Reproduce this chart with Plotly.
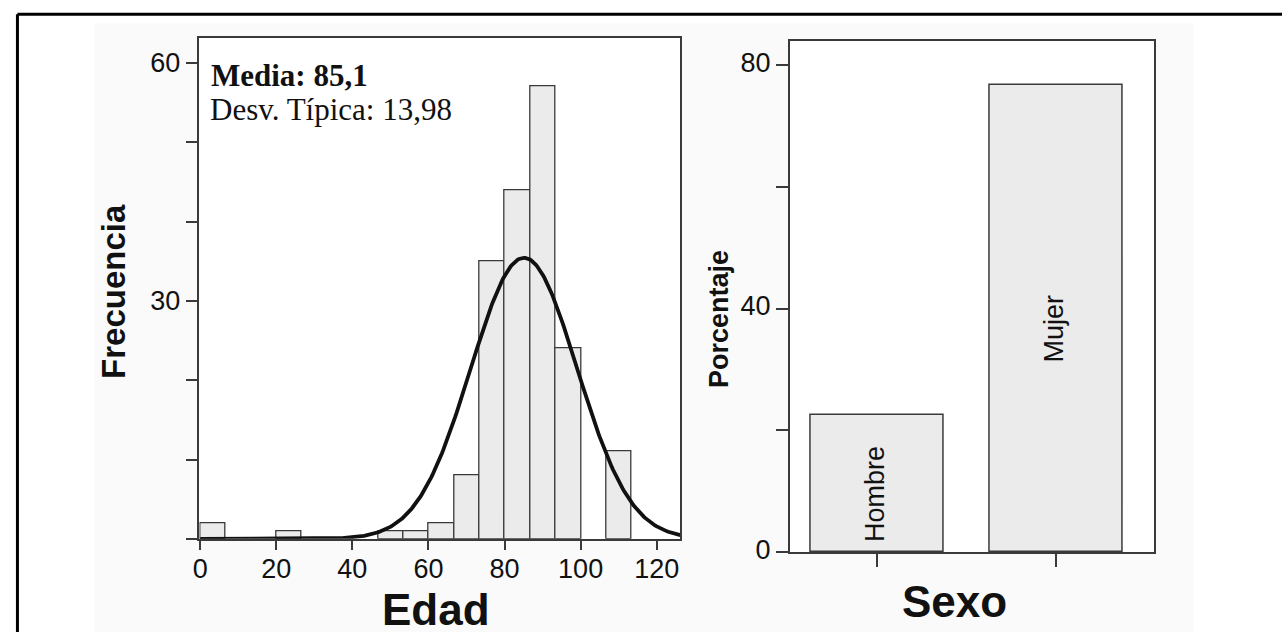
import numpy as np
import plotly.graph_objects as go

# ---------------- data ----------------
edad_bin_inicio = 0.0
edad_bin_ancho = 6.675
edad_frecuencias = [2, 0, 0, 1, 0, 0, 0, 1, 1, 2, 8, 35, 44, 57, 24, 0, 11]
edad_media = 85.1
edad_desv = 13.98
edad_xticks = [0, 20, 40, 60, 80, 100, 120]
frec_yticks = [0, 10, 20, 30, 40, 50, 60]
frec_yticklabels = ["", "", "", "30", "", "", "60"]

sexo_categorias = ["Hombre", "Mujer"]
sexo_porcentajes = [22.5, 76.7]
porc_yticks = [0, 20, 40, 60, 80]
porc_yticklabels = ["0", "", "40", "", "80"]

# ---------------- layout helpers ----------------
W, H = 1282, 644
def px(x):
    return x / W
def py(y):
    return 1 - y / H

FONT = "Liberation Sans, Arial, sans-serif"
SERIF = "Liberation Serif, Times New Roman, serif"
LINE = "#3a3a3a"
FILL = "#ebebeb"

# histogram bars
centers, heights = [], []
for i, f in enumerate(edad_frecuencias):
    if f > 0:
        centers.append(edad_bin_inicio + edad_bin_ancho * (i + 0.5))
        heights.append(f)

n_total = sum(edad_frecuencias)
xc = np.linspace(0, 126.2, 400)
yc = n_total * edad_bin_ancho * np.exp(-0.5 * ((xc - edad_media) / edad_desv) ** 2) / (edad_desv * np.sqrt(2 * np.pi))

fig = go.Figure()
fig.add_trace(go.Bar(x=centers, y=heights, width=edad_bin_ancho,
                     marker=dict(color=FILL, line=dict(color=LINE, width=1.3)),
                     xaxis="x", yaxis="y", showlegend=False, hoverinfo="skip"))
fig.add_trace(go.Scatter(x=xc, y=yc, mode="lines", line=dict(color="#111111", width=3.8),
                         xaxis="x", yaxis="y", showlegend=False, hoverinfo="skip"))
fig.add_trace(go.Bar(x=sexo_categorias, y=sexo_porcentajes, width=0.745,
                     marker=dict(color=FILL, line=dict(color=LINE, width=1.5)),
                     xaxis="x2", yaxis="y2", showlegend=False, hoverinfo="skip"))

axis_common = dict(showline=True, linecolor=LINE, linewidth=1.5, mirror=True,
                   showgrid=False, zeroline=False, ticks="outside", tickcolor=LINE,
                   tickwidth=1.5, tickfont=dict(family=FONT, size=27, color="#111111"))

L_DOM_X = [193.5, 677]
L_DOM_Y = [549.1, 39]
R_DOM_X = [787, 1153.3]
R_DOM_Y = [562.7, 41.7]

fig.update_layout(
    width=W, height=H,
    margin=dict(l=0, r=0, t=0, b=0),
    paper_bgcolor="white", plot_bgcolor="white",
    bargap=0,
    xaxis=dict(domain=[px(L_DOM_X[0]), px(L_DOM_X[1])], range=[-0.2, 126.2], tickvals=edad_xticks,
               ticklen=9, ticklabelstandoff=-4, anchor="y", **axis_common),
    yaxis=dict(domain=[py(L_DOM_Y[0]), py(L_DOM_Y[1])], range=[0, 63.1], tickvals=frec_yticks,
               ticktext=frec_yticklabels, ticklen=12, anchor="x", **axis_common),
    xaxis2=dict(domain=[px(R_DOM_X[0]), px(R_DOM_X[1])], range=[-0.49, 1.55], type="category",
                showticklabels=False, ticklen=13, anchor="y2", **axis_common),
    yaxis2=dict(domain=[py(R_DOM_Y[0]), py(R_DOM_Y[1])], range=[0, 84.0], tickvals=porc_yticks,
                ticktext=porc_yticklabels, ticklen=12, ticklabelshift=-3, anchor="x2", **axis_common),
)

ann = []
# axis titles
ann.append(dict(text="<b>Edad</b>", x=px(431), y=py(621), xref="paper", yref="paper",
                xanchor="center", yanchor="middle", showarrow=False,
                font=dict(family=FONT, size=44, color="#111111")))
ann.append(dict(text="<b>Sexo</b>", x=px(953), y=py(613), xref="paper", yref="paper",
                xanchor="center", yanchor="middle", showarrow=False,
                font=dict(family=FONT, size=44, color="#111111")))
ann.append(dict(text="<b>Frecuencia</b>", x=px(107), y=py(297), xref="paper", yref="paper",
                xanchor="center", yanchor="middle", showarrow=False, textangle=-90,
                font=dict(family=FONT, size=33, color="#111111")))
ann.append(dict(text="<b>Porcentaje</b>", x=px(716), y=py(325), xref="paper", yref="paper",
                xanchor="center", yanchor="middle", showarrow=False, textangle=-90,
                font=dict(family=FONT, size=27, color="#111111")))
# statistics text
ann.append(dict(text="<b>Media: 85,1</b>", x=px(203), y=py(77), xref="paper", yref="paper",
                xanchor="left", yanchor="middle", showarrow=False,
                font=dict(family=SERIF, size=31, color="#111111")))
ann.append(dict(text="Desv. Típica: 13,98", x=px(202), y=py(112), xref="paper", yref="paper",
                xanchor="left", yanchor="middle", showarrow=False,
                font=dict(family=SERIF, size=31, color="#111111")))
# bar labels
for cat, val in zip(sexo_categorias, sexo_porcentajes):
    ann.append(dict(text=cat, x=cat, y=val / 2, xref="x2", yref="y2",
                    xanchor="center", yanchor="middle", showarrow=False, textangle=-90,
                    yshift=-10, xshift=-2,
                    font=dict(family=FONT, size=27, color="#111111")))
fig.update_layout(annotations=ann)

# faint panel behind charts, white plot areas, outer frame (kept inside the page)
fig.add_shape(type="rect", xref="paper", yref="paper", x0=px(88), x1=px(1193), y0=0, y1=py(24),
              fillcolor="#fafafa", line=dict(width=0), layer="below")
for dx, dy in ((L_DOM_X, L_DOM_Y), (R_DOM_X, R_DOM_Y)):
    fig.add_shape(type="rect", xref="paper", yref="paper", x0=px(dx[0]), x1=px(dx[1]),
                  y0=py(dy[0]), y1=py(dy[1]), fillcolor="white", line=dict(width=0), layer="below")
fig.add_shape(type="line", xref="paper", yref="paper", x0=px(10.5), x1=1, y0=py(14.5), y1=py(14.5),
              line=dict(color="#000000", width=3), layer="above")
fig.add_shape(type="line", xref="paper", yref="paper", x0=px(10.5), x1=px(10.5), y0=0, y1=py(14.5),
              line=dict(color="#000000", width=3), layer="above")

fig.write_html("out.html")
